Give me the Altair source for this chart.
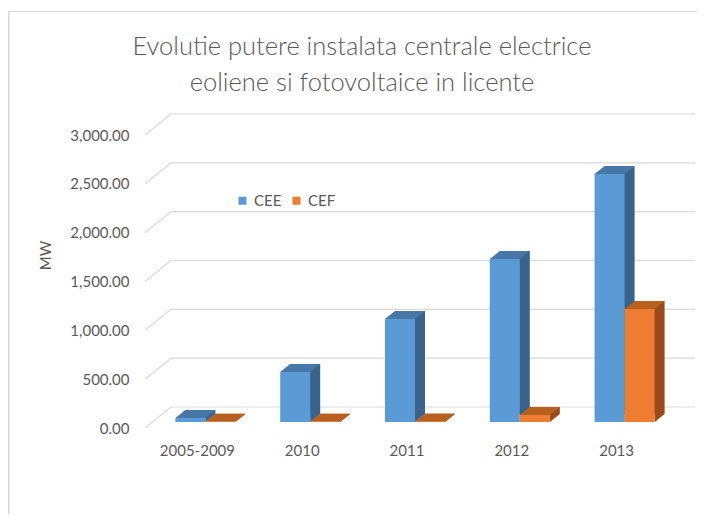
import altair as alt
import pandas as pd

categories = ["2005-2009", "2010", "2011", "2012", "2013"]
series_names = ["CEE", "CEF"]
cee_values = [41, 512, 1055, 1669, 2539]
cef_values = [2, 2, 3, 72, 1157]
tick_values = [0, 500, 1000, 1500, 2000, 2500, 3000]

title_lines = ["Evolutie putere instalata centrale electrice",
               "eoliene si fotovoltaice in licente"]

rows = []
for name, vals in zip(series_names, [cee_values, cef_values]):
    for c, v in zip(categories, vals):
        rows.append({"cat": c, "series": name, "value": v, "zero": 0})
df = pd.DataFrame(rows)
grid_df = pd.DataFrame({"value": tick_values})

FONT = "Lato"
TXT = "#595959"
GRID = "#d9d9d9"
W, H = 524, 293
DX, DY = 26, 21          # depth of the wall
BX, BY = 8, 6            # bar position inside the depth
SX, SY = 10, 8           # bar depth
BW = 30                  # bar width

FRONT = {"CEE": "#5b9bd5", "CEF": "#ed7d31"}
TOP = {"CEE": "#4677a7", "CEF": "#b9601f"}
SIDE = {"CEE": "#39638b", "CEF": "#9a4b19"}
SHIFT = {"CEE": -BW / 2, "CEF": BW / 2}   # centre of each bar from group centre

y_axis = alt.Axis(title="MW", format=",.2f", values=tick_values, grid=False,
                  domain=False, ticks=False, tickSize=0, labelPadding=16,
                  labelFont=FONT, labelFontSize=15, labelColor=TXT,
                  titleFont=FONT, titleFontSize=15, titleColor=TXT,
                  titleFontWeight="normal", titleAngle=-90, titleX=-100,
                  titleY=120, titleAlign="center", titleBaseline="middle")
y_scale = alt.Scale(domain=[0, 3000], nice=False, zero=True)


def Y(field):
    return alt.Y(field, type="quantitative", scale=y_scale, axis=y_axis)


x_enc = alt.X("cat:N", sort=categories,
              scale=alt.Scale(paddingInner=0.4275, paddingOuter=0.21375),
              axis=alt.Axis(title=None, labelAngle=0, domain=False, ticks=False,
                            tickSize=0, labelPadding=15, labelFont=FONT,
                            labelFontSize=15, labelColor=TXT))

legend = alt.Legend(title=None, orient="none", legendX=90, legendY=58,
                    direction="horizontal", symbolType="square",
                    symbolSize=64, symbolStrokeWidth=0, symbolOpacity=1,
                    labelFont=FONT, labelFontSize=15, labelColor=TXT,
                    columnPadding=7, labelOffset=4, padding=0)

back_grid = alt.Chart(grid_df).mark_rule(color=GRID, strokeWidth=1.2, yOffset=-DY).encode(
    y=Y("value"), x=alt.value(DX), x2=alt.value(W + DX))
diag_grid = alt.Chart(grid_df).mark_rule(color=GRID, strokeWidth=1.2, y2Offset=-DY).encode(
    y=Y("value"), y2=alt.Y2("value"), x=alt.value(0), x2=alt.value(DX))

border_top = alt.Chart(grid_df).mark_rule(color=GRID, strokeWidth=1.2).encode(
    x=alt.value(-137), x2=alt.value(W + 28), y=alt.value(-123.5))
border_left = alt.Chart(grid_df).mark_rule(color=GRID, strokeWidth=1.2).encode(
    x=alt.value(-136.5), y=alt.value(-123.5), y2=alt.value(H + 86))

layers = [border_top, border_left, back_grid, diag_grid]
for s in series_names:
    b = alt.Chart(df).transform_filter(alt.datum.series == s)
    cx = SHIFT[s] + BX
    side = b.mark_bar(width=BW, xOffset=cx + SX, yOffset=-(BY + SY),
                      color=SIDE[s]).encode(x=x_enc, y=Y("value"))
    bottom = b.mark_point(shape="M15,0L25,-8L15,-8Z", size=4, filled=True,
                          opacity=1, strokeWidth=0, xOffset=cx, yOffset=-BY,
                          color=SIDE[s]).encode(x=x_enc, y=Y("zero"))
    front = b.mark_bar(width=BW, xOffset=cx, yOffset=-BY).encode(
        x=x_enc, y=Y("value"),
        color=alt.Color("series:N", sort=series_names,
                        scale=alt.Scale(domain=series_names,
                                        range=[FRONT[n] for n in series_names]),
                        legend=legend))
    top = b.mark_point(shape="M-15,0L15,0L25,-8L-5,-8Z", size=4, filled=True,
                       opacity=1, strokeWidth=0, xOffset=cx, yOffset=-BY,
                       color=TOP[s]).encode(x=x_enc, y=Y("value"))
    layers += [side, bottom, front, top]

chart = alt.layer(*layers).properties(
    width=W, height=H,
    autosize=alt.AutoSizeParams(type="none"),
    padding={"left": 137, "top": 127, "right": 28, "bottom": 86},
    background="white",
    title=alt.TitleParams(text=title_lines, anchor="start", align="center", dx=217,
                          frame="group", baseline="alphabetic", offset=0, dy=106,
                          lineHeight=36, font=FONT, fontSize=25.5, fontWeight=300,
                          color=TXT),
).configure_view(stroke=None)

chart.save("out.html", embed_options={"renderer": "svg", "actions": False})
